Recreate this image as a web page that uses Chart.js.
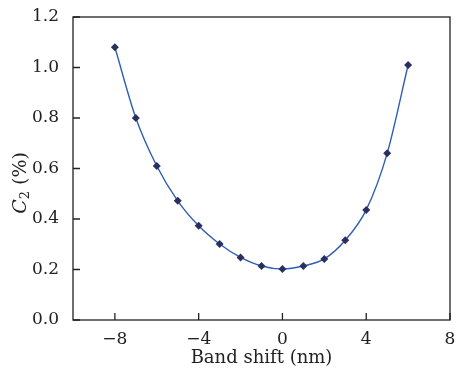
<!DOCTYPE html>
<html><head><meta charset="utf-8">
<script src="https://cdn.jsdelivr.net/npm/chart.js@4/dist/chart.umd.min.js"></script>
<style>html,body{margin:0;padding:0;background:#fff}#w{width:456px;height:373px}</style>
</head><body><div id="w"><canvas id="c"></canvas></div>
<script>
const bandShift = [-8,-7,-6,-5,-4,-3,-2,-1,0,1,2,3,4,5,6];
const c2Values = [1.08,0.80,0.61,0.472,0.373,0.301,0.248,0.214,0.202,0.214,0.242,0.316,0.436,0.66,1.01];
const xTicks = [-8,-4,0,4,8];
const yTicks = [0,0.2,0.4,0.6,0.8,1.0,1.2];
const FONT = "'DejaVu Serif', serif";

const boxPlugin = {
  id:'box',
  afterDraw(chart){
    const ctx = chart.ctx, a = chart.chartArea, xs = chart.scales.x, ys = chart.scales.y;
    ctx.save();
    ctx.strokeStyle = '#222'; ctx.lineWidth = 1.3;
    ctx.strokeRect(a.left, a.top, a.right-a.left, a.bottom-a.top);
    ctx.beginPath();
    xTicks.forEach(v=>{const p=xs.getPixelForValue(v); ctx.moveTo(p,a.bottom); ctx.lineTo(p,a.bottom-7);});
    yTicks.forEach(v=>{const p=ys.getPixelForValue(v); ctx.moveTo(a.left,p); ctx.lineTo(a.left+7,p);});
    ctx.stroke();
    // y title
    ctx.translate(21, 183);
    ctx.rotate(-Math.PI/2);
    ctx.fillStyle = '#222';
    ctx.textBaseline = 'middle';
    ctx.font = "italic 19px " + FONT;
    const w1 = ctx.measureText('C').width;
    ctx.font = "13px " + FONT;
    const w2 = ctx.measureText('2').width;
    ctx.font = "19px " + FONT;
    const w3 = ctx.measureText(' (%)').width;
    let x = -(w1+w2+w3)/2;
    ctx.font = "italic 19px " + FONT; ctx.fillText('C', x, 0); x += w1;
    ctx.font = "13px " + FONT; ctx.fillText('2', x, 5); x += w2;
    ctx.font = "19px " + FONT; ctx.fillText(' (%)', x, 0);
    ctx.restore();
  }
};

new Chart(document.getElementById('c'), {
  type:'line',
  data:{
    datasets:[{
      data: bandShift.map((x,i)=>({x, y:c2Values[i]})),
      borderColor:'#2f5fb3', borderWidth:1.4,
      pointStyle:'rectRot', pointRadius:4, pointBackgroundColor:'#2b2f60', pointBorderColor:'#2b2f60', pointBorderWidth:0,
      cubicInterpolationMode:'monotone', tension:0.4, fill:false
    }]
  },
  options:{
    responsive:true, maintainAspectRatio:false, animation:false,
    layout:{padding:{top:17,right:6,left:0,bottom:4}},
    plugins:{legend:{display:false}, tooltip:{enabled:false}},
    scales:{
      x:{type:'linear', min:-10, max:8,
        afterBuildTicks(s){ s.ticks = xTicks.map(v=>({value:v})); },
        afterFit(s){ s.height = 49; s.paddingLeft = 0; s.paddingRight = 0; },
        grid:{display:false}, border:{display:false},
        ticks:{color:'#222', font:{family:FONT, size:17}, padding:1, maxRotation:0,
          callback:v=> v<0 ? '\u2212'+Math.abs(v) : String(v)},
        title:{display:true, text:'Band shift (nm)', color:'#222', font:{family:FONT,size:18}, padding:{top:0,bottom:0}}
      },
      y:{min:0, max:1.2,
        afterBuildTicks(s){ s.ticks = yTicks.map(v=>({value:v})); },
        afterFit(s){ s.width = 73; s.paddingTop = 0; s.paddingBottom = 0; },
        grid:{display:false}, border:{display:false},
        ticks:{color:'#222', font:{family:FONT, size:17}, padding:6, callback:v=>v.toFixed(1)}
      }
    }
  },
  plugins:[boxPlugin]
});
</script></body></html>
